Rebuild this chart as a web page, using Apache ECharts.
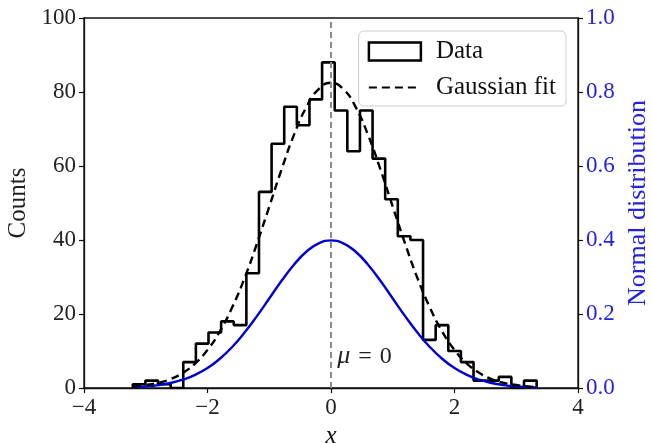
<!DOCTYPE html>
<html>
<head>
<meta charset="utf-8">
<script src="https://cdn.jsdelivr.net/npm/echarts@6/dist/echarts.min.js"></script>
<style>
  html, body { margin: 0; padding: 0; background: #fff; }
  #chart { width: 652px; height: 443px; }
</style>
</head>
<body>
<div id="chart"></div>
<script>
// Histogram of 1000 samples: 32 equal-width bins between the sample extremes
const histMin = -3.21;
const histMax = 3.33;
const binCounts = [1, 2, 1, 0, 7, 12, 15, 18, 17, 31, 53, 66, 76, 71, 78, 88,
                   75, 64, 75, 62, 51, 41, 40, 13, 17, 10, 7, 2, 2, 3, 0, 2];

// Curves sampled across the data range
const curveX = [-3.2, -3.0, -2.8, -2.6, -2.4, -2.2, -2.0, -1.8, -1.6, -1.4, -1.2,
                -1.0, -0.8, -0.6, -0.4, -0.2, 0.0, 0.2, 0.4, 0.6, 0.8, 1.0, 1.2,
                1.4, 1.6, 1.8, 2.0, 2.2, 2.4, 2.6, 2.8, 3.0, 3.2, 3.33];
const fitCounts = [0.4, 0.8, 1.4, 2.4, 4.1, 6.6, 10.3, 15.3, 21.8, 29.7, 39.0,
                   49.0, 59.1, 68.4, 75.9, 80.8, 82.5, 80.8, 75.9, 68.4, 59.1, 49.0,
                   39.0, 29.7, 21.8, 15.3, 10.3, 6.6, 4.1, 2.4, 1.4, 0.8, 0.4, 0.26];
const normalPdf = [0.0024, 0.0044, 0.0079, 0.0136, 0.0224, 0.0355, 0.0540, 0.0790,
                   0.1109, 0.1497, 0.1942, 0.2420, 0.2897, 0.3332, 0.3683, 0.3910,
                   0.3989, 0.3910, 0.3683, 0.3332, 0.2897, 0.2420, 0.1942, 0.1497,
                   0.1109, 0.0790, 0.0540, 0.0355, 0.0224, 0.0136, 0.0079, 0.0044,
                   0.0024, 0.0016];

const xTicks = [-4, -2, 0, 2, 4];
const countTicks = [0, 20, 40, 60, 80, 100];
const pdfTicks = [0.0, 0.2, 0.4, 0.6, 0.8, 1.0];
const meanValue = 0;

const SERIF = '"Liberation Serif", "DejaVu Serif", serif';
const BLUE = '#0000d0';
const LABEL_BLUE = '#2222e0';

// Step outline of the histogram: (edge, count) pairs joined with horizontal-first steps
const binWidth = (histMax - histMin) / binCounts.length;
const histLine = [[histMin, 0]];
binCounts.forEach((c, i) => histLine.push([histMin + i * binWidth, c]));
histLine.push([histMax, binCounts[binCounts.length - 1]]);
histLine.push([histMax, 0]);

const fitLine = curveX.map((x, i) => [x, fitCounts[i]]);
const pdfLine = curveX.map((x, i) => [x, normalPdf[i]]);

const minus = v => String(v).replace('-', '\u2212');

const axisLineStyle = { show: true, onZero: false, lineStyle: { color: '#111', width: 1.3 } };
const tickStyle = { show: true, length: 5, lineStyle: { color: '#111', width: 1.2 } };

const chart = echarts.init(document.getElementById('chart'), null, { renderer: 'canvas' });
chart.setOption({
  animation: false,
  backgroundColor: '#fff',
  textStyle: { fontFamily: SERIF },
  grid: {
    left: 84, right: 74, top: 18, bottom: 55,
    containLabel: false, outerBoundsMode: 'none',
    show: true, borderColor: '#111', borderWidth: 1.3, backgroundColor: 'transparent'
  },
  legend: {
    orient: 'vertical',
    right: 86, top: 31,
    itemWidth: 52, itemHeight: 18, itemGap: 11,
    padding: [8, 10, 6, 9],
    backgroundColor: 'rgba(255,255,255,0.85)',
    borderColor: '#cccccc', borderWidth: 1, borderRadius: 5,
    textStyle: { fontFamily: SERIF, fontSize: 25, color: '#111', padding: [0, 0, 0, 10] },
    data: [
      { name: 'Data', icon: 'rect',
        itemStyle: { color: '#fff', borderColor: '#000', borderWidth: 2.5 } },
      { name: 'Gaussian fit',
        itemStyle: { color: 'rgba(0,0,0,0)', borderWidth: 0, opacity: 0 } }
    ]
  },
  xAxis: {
    type: 'value', min: xTicks[0], max: xTicks[xTicks.length - 1], interval: 2,
    name: 'x', nameLocation: 'middle', nameGap: 36,
    nameTextStyle: { fontFamily: SERIF, fontStyle: 'italic', fontSize: 25, color: '#111' },
    axisLine: axisLineStyle,
    axisTick: tickStyle,
    axisLabel: { fontFamily: SERIF, fontSize: 23, color: '#222', margin: 8, formatter: minus },
    splitLine: { show: false }
  },
  yAxis: [
    {
      type: 'value', min: countTicks[0], max: countTicks[countTicks.length - 1], interval: 20,
      name: 'Counts', nameLocation: 'middle', nameGap: 50, nameRotate: 90,
      nameTextStyle: { fontFamily: SERIF, fontSize: 25, color: '#222' },
      axisLine: axisLineStyle,
      axisTick: tickStyle,
      axisLabel: { fontFamily: SERIF, fontSize: 23, color: '#222', margin: 8 },
      splitLine: { show: false }
    },
    {
      type: 'value', min: pdfTicks[0], max: pdfTicks[pdfTicks.length - 1], interval: 0.2,
      position: 'right',
      name: 'Normal distribution', nameLocation: 'middle', nameGap: 43, nameRotate: 90,
      nameTextStyle: { fontFamily: SERIF, fontSize: 26, color: LABEL_BLUE },
      axisLine: axisLineStyle,
      axisTick: tickStyle,
      axisLabel: { fontFamily: SERIF, fontSize: 23, color: LABEL_BLUE, margin: 8,
                   formatter: v => v.toFixed(1) },
      splitLine: { show: false }
    }
  ],
  series: [
    {
      name: 'Data', type: 'line', step: 'end', data: histLine,
      symbol: 'none', z: 3,
      itemStyle: { color: '#000' },
      lineStyle: { color: '#000', width: 2.6 }
    },
    {
      name: 'Gaussian fit', type: 'line', data: fitLine, smooth: true,
      symbol: 'none', z: 4,
      itemStyle: { color: '#000' },
      lineStyle: { color: '#000', width: 2.4, type: [8, 5] }
    },
    {
      name: 'Normal pdf', type: 'line', yAxisIndex: 1, data: pdfLine, smooth: true,
      symbol: 'none', z: 3,
      itemStyle: { color: BLUE },
      lineStyle: { color: BLUE, width: 2.4 }
    },
    {
      name: 'mean', type: 'line', data: [], z: 2,
      markLine: {
        silent: true, symbol: 'none',
        lineStyle: { color: '#8a8a8a', width: 2, type: [6, 4] },
        label: { show: false },
        data: [{ xAxis: meanValue }]
      },
      markPoint: {
        silent: true, symbol: 'rect', symbolSize: 0,
        label: {
          show: true, position: 'right', distance: 0,
          formatter: '{m|\u03bc}{s|=}0',
          fontFamily: SERIF, fontSize: 24, color: '#222',
          rich: {
            m: { fontFamily: SERIF, fontStyle: 'italic', fontSize: 26, color: '#222' },
            s: { fontFamily: SERIF, fontSize: 24, color: '#222', padding: [0, 8, 0, 8] }
          }
        },
        data: [{ coord: [0.1, 8.5] }]
      }
    }
  ]
});
</script>
</body>
</html>
